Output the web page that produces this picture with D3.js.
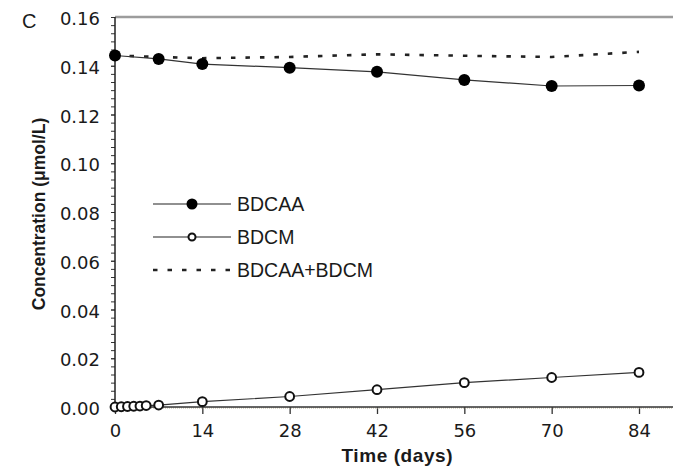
<!DOCTYPE html>
<html>
<head>
<meta charset="utf-8">
<script src="https://cdn.jsdelivr.net/npm/d3@7"></script>
<style>
  body { margin: 0; background: #fff; }
  svg { display: block; }
</style>
</head>
<body>
<svg id="chart" width="673" height="469"></svg>
<script>
// values
const bdcaaDays = [0, 7, 14, 28, 42, 56, 70, 84];
const bdcaaValues = [0.1442, 0.1428, 0.1407, 0.1392, 0.1375, 0.1342, 0.1317, 0.1319];

const bdcmDays = [0, 1, 2, 3, 4, 5, 7, 14, 28, 42, 56, 70, 84];
const bdcmValues = [0.0000, 0.0001, 0.0002, 0.0003, 0.0004, 0.0006, 0.0008, 0.0022, 0.0043, 0.0071, 0.0100, 0.0121, 0.0142];

const sumDays = [0, 7, 14, 28, 42, 56, 70, 84];
const sumValues = [0.1442, 0.1436, 0.1431, 0.1436, 0.1447, 0.1441, 0.1436, 0.1457];

const xTicks = [0, 14, 28, 42, 56, 70, 84];
const yTicks = [0, 0.02, 0.04, 0.06, 0.08, 0.10, 0.12, 0.14, 0.16];

const legendLabels = ["BDCAA", "BDCM", "BDCAA+BDCM"];

const svg = d3.select("#chart");
const W = 673;

const x = d3.scaleLinear().domain([0, 84]).range([115, 639]);
const y = d3.scaleLinear().domain([0, 0.16]).range([407, 17]);

const tickFont = "'DejaVu Sans', sans-serif";

// top border (grey)
svg.append("line")
    .attr("x1", x(0)).attr("x2", W)
    .attr("y1", y(0.16)).attr("y2", y(0.16))
    .attr("stroke", "#9c9c9c").attr("stroke-width", 2.5);

// y axis minor ticks
let minorY = d3.range(0, 49).map(i => i * 0.02 / 6);
let yMinor = svg.append("g")
    .attr("transform", `translate(${x(0)},0)`)
    .call(d3.axisLeft(y).tickValues(minorY).tickSize(4).tickFormat(""));
yMinor.select(".domain").remove();
yMinor.selectAll("line").attr("stroke", "#333");

// y axis labels
let yAxis = svg.append("g")
    .attr("transform", `translate(${x(0)},0)`)
    .call(d3.axisLeft(y).tickValues(yTicks).tickSize(4).tickPadding(11)
        .tickFormat(d3.format(".2f")));
yAxis.select(".domain").remove();
yAxis.selectAll("line").attr("stroke", "#333");
yAxis.selectAll("text")
    .style("font-family", tickFont)
    .style("font-size", "18px")
    .attr("fill", "#1a1a1a")
    .attr("dy", "0.42em");

svg.append("line")
    .attr("x1", x(0)).attr("x2", x(0))
    .attr("y1", y(0.16)).attr("y2", y(0) + 1)
    .attr("stroke", "#222").attr("stroke-width", 1.5);

// x axis
let xAxis = svg.append("g")
    .attr("transform", `translate(0,${y(0)})`)
    .call(d3.axisBottom(x).tickValues(xTicks).tickSize(7).tickPadding(10));
xAxis.select(".domain").remove();
xAxis.selectAll("line").attr("stroke", "#333").attr("stroke-width", 1.3);
xAxis.selectAll("text")
    .style("font-family", tickFont)
    .style("font-size", "18px")
    .attr("fill", "#1a1a1a");

svg.append("line")
    .attr("x1", x(0)).attr("x2", W)
    .attr("y1", y(0) + 1).attr("y2", y(0) + 1)
    .attr("stroke", "#b8b090").attr("stroke-width", 1)
    .attr("stroke-dasharray", "1,1");
svg.append("line")
    .attr("x1", x(0)).attr("x2", W)
    .attr("y1", y(0)).attr("y2", y(0))
    .attr("stroke", "#333").attr("stroke-width", 1.5);

// lines
const line = d3.line().x(d => x(d[0])).y(d => y(d[1]));

const sumData = d3.zip(sumDays, sumValues);
const bdcaaData = d3.zip(bdcaaDays, bdcaaValues);
const bdcmData = d3.zip(bdcmDays, bdcmValues);

svg.append("path").datum(sumData)
    .attr("d", line)
    .attr("fill", "none").attr("stroke", "#222")
    .attr("stroke-width", 2.6).attr("stroke-dasharray", "4.5,10");

svg.append("path").datum(bdcaaData)
    .attr("d", line)
    .attr("fill", "none").attr("stroke", "#333").attr("stroke-width", 1.2);

svg.append("path").datum(bdcmData)
    .attr("d", line)
    .attr("fill", "none").attr("stroke", "#333").attr("stroke-width", 1.2);

svg.selectAll(".open").data(bdcmData).join("circle")
    .attr("class", "open")
    .attr("cx", d => x(d[0])).attr("cy", d => y(d[1]))
    .attr("r", 4.4)
    .attr("fill", "#fff").attr("stroke", "#111").attr("stroke-width", 2);

svg.selectAll(".filled").data(bdcaaData).join("circle")
    .attr("class", "filled")
    .attr("cx", d => x(d[0])).attr("cy", d => y(d[1]))
    .attr("r", 6)
    .attr("fill", "#000");

// legend
const legendY = [204, 237, 270];
const leg = svg.append("g");
legendLabels.forEach((name, i) => {
    let ly = legendY[i];
    let seg = leg.append("line")
        .attr("x1", 153).attr("x2", 231)
        .attr("y1", ly).attr("y2", ly)
        .attr("stroke", "#222");
    if (i == 2) {
        seg.attr("stroke-width", 2.6).attr("stroke-dasharray", "4.5,10");
    } else {
        seg.attr("stroke-width", 1.2);
    }
    if (i == 0) {
        leg.append("circle").attr("cx", 192).attr("cy", ly).attr("r", 5.5).attr("fill", "#000");
    }
    if (i == 1) {
        leg.append("circle").attr("cx", 192).attr("cy", ly).attr("r", 3.5)
            .attr("fill", "#fff").attr("stroke", "#111").attr("stroke-width", 2);
    }
    leg.append("text")
        .attr("x", 237).attr("y", ly + 7)
        .style("font-family", "'Liberation Sans', Arial, sans-serif")
        .style("font-size", "19.5px")
        .attr("fill", "#1a1a1a")
        .text(name);
});

// panel letter
svg.append("text")
    .attr("x", 22).attr("y", 28)
    .style("font-family", "'Liberation Sans', Arial, sans-serif")
    .style("font-size", "20px")
    .attr("fill", "#1a1a1a")
    .text("C");

// axis titles
svg.append("text")
    .attr("transform", "translate(45,214) rotate(-90)")
    .attr("text-anchor", "middle")
    .style("font-family", "'Liberation Sans', Arial, sans-serif")
    .style("font-size", "17.5px")
    .style("font-weight", "bold")
    .attr("fill", "#1a1a1a")
    .text("Concentration (\u03bcmol/L)");

svg.append("text")
    .attr("x", 397).attr("y", 462)
    .attr("text-anchor", "middle")
    .attr("textLength", 111)
    .style("font-family", "'Liberation Sans', Arial, sans-serif")
    .style("font-size", "19px")
    .style("font-weight", "bold")
    .attr("fill", "#1a1a1a")
    .text("Time (days)");
</script>
</body>
</html>
